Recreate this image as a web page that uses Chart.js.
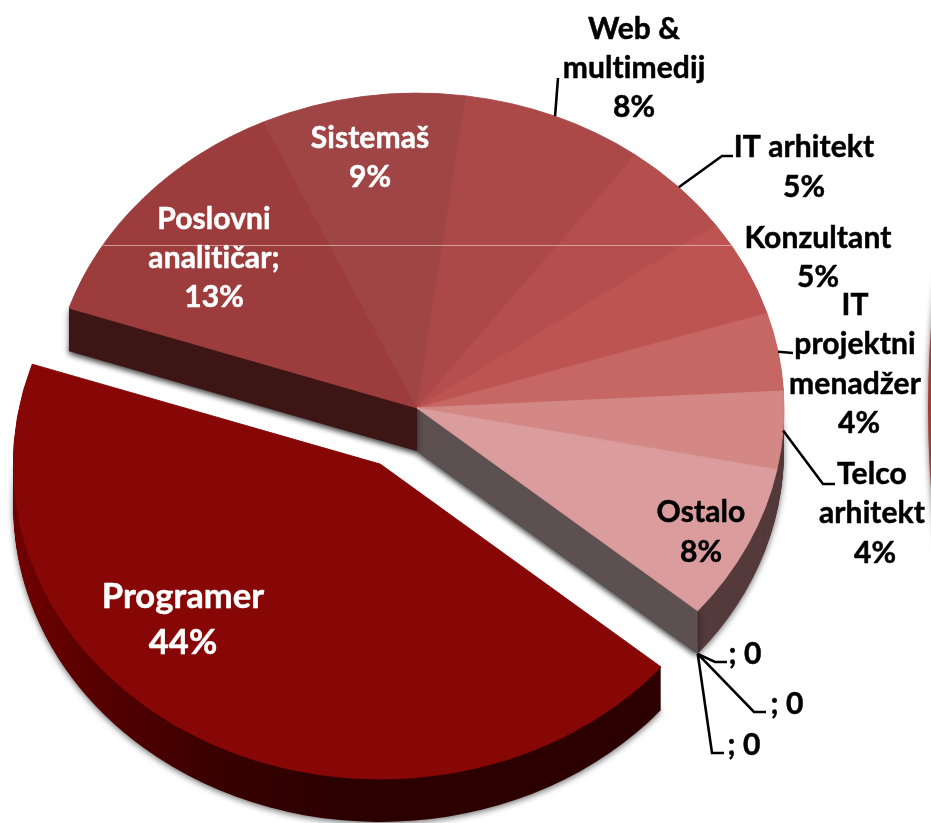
<!DOCTYPE html>
<html>
<head>
<meta charset="utf-8">
<style>
html, body { margin: 0; padding: 0; background: #fff; overflow: hidden; }
canvas { display: block; }
</style>
<script src="https://cdn.jsdelivr.net/npm/chart.js@4/dist/chart.umd.js"></script>
</head>
<body>
<canvas id="myChart" width="931" height="823"></canvas>
<script>
// data
const categories = ['Programer', 'Poslovni analitičar;', 'Sistemaš', 'Web & multimedij', 'IT arhitekt',
    'Konzultant', 'IT projektni menadžer', 'Telco arhitekt', 'Ostalo', '', '', '']
const shares = [44, 13, 9, 8, 5, 5, 4, 4, 8, 0, 0, 0]
const sliceColors = ['#870707', '#9c3c3c', '#a04545', '#ab4949', '#b44f4d', '#bd5451', '#c76764', '#d38886', '#da9c9d',
    '#da9c9d', '#da9c9d', '#da9c9d']

// how the labels break, the last line is the value
const labelLines = [['Programer'], ['Poslovni', 'analitičar;'], ['Sistemaš'], ['Web &', 'multimedij'], ['IT arhitekt'],
    ['Konzultant'], ['IT', 'projektni', 'menadžer'], ['Telco', 'arhitekt'], ['Ostalo'], [], [], []]

// label layout: centre x, first line y, line gap, value x shift, colour
const labelPos = [
    [183, 597, 46, 0, '#fff', 34.5],
    [214, 219, 39, 0, '#fff'],
    [370, 138, 39, 0, '#fff'],
    [634, 29, 39, 0, '#000'],
    [804, 147, 40, 0, '#000'],
    [818, 238, 39, 0, '#000'],
    [855, 305, 39.5, 4, '#000'],
    [872, 474, 39.5, 3, '#000'],
    [701, 512, 40, 0, '#000'],
    [745, 654, 0, 0, '#000'],
    [787, 704, 0, 0, '#000'],
    [744, 745, 0, 0, '#000']
]

// leader lines: slice index and the elbow points after the pie edge
const leaders = [
    [3, [[558, 78]]],
    [4, [[722, 156], [733, 156]]],
    [6, [[793, 353]]],
    [7, [[823, 484], [835, 484]]],
    [9, [[715, 662], [727, 662]]],
    [10, [[754, 712], [766, 712]]],
    [11, [[712, 753], [724, 753]]]
]

const squash = 0.858
const depth = 43
const explode = 75
const centerY = 408

function flatten(ctx) {
    ctx.translate(0, centerY)
    ctx.scale(1, squash)
    ctx.translate(0, -centerY)
}

function slicePath(ctx, x, y, r, a, b) {
    ctx.beginPath()
    ctx.moveTo(x, y)
    ctx.arc(x, y, r, a, b)
    ctx.closePath()
}

function edgePoint(x, y, r, a) {
    return [x + Math.cos(a) * r, centerY + (y - centerY + Math.sin(a) * r) * squash]
}

function setShadow(ctx) {
    ctx.shadowColor = 'rgba(0,0,0,0.55)'
    ctx.shadowBlur = 6
    ctx.shadowOffsetX = 0
    ctx.shadowOffsetY = 2
}

function drawRim(ctx, x, y, r, a, b, fill) {
    for (let d = depth; d > 0; d--) {
        ctx.save()
        if (d === depth) setShadow(ctx)
        ctx.translate(0, d)
        flatten(ctx)
        ctx.fillStyle = fill
        slicePath(ctx, x, y, r, a, b)
        ctx.fill()
        ctx.restore()
    }
}

function drawWall(ctx, x, y, r, a, fill) {
    const p = edgePoint(x, y, r, a)
    ctx.save()
    setShadow(ctx)
    ctx.fillStyle = fill
    ctx.beginPath()
    ctx.moveTo(x, y)
    ctx.lineTo(p[0], p[1])
    ctx.lineTo(p[0], p[1] + depth)
    ctx.lineTo(x, y + depth)
    ctx.closePath()
    ctx.fill()
    ctx.restore()
}

// the library only gives a flat pie, so tilt it and give it a thickness
const tiltPlugin = {
    id: 'tilt',
    beforeDatasetsDraw(chart) {
        const ctx = chart.ctx
        const arcs = chart.getDatasetMeta(0).data
        const first = arcs[0].getProps(['x', 'y', 'startAngle', 'endAngle', 'outerRadius'], true)
        const next = arcs[1].getProps(['startAngle'], true)
        const last = arcs[8].getProps(['endAngle'], true)
        const { x, y, outerRadius: r } = first

        // rest of the pie
        drawRim(ctx, x, y, r, next.startAngle, last.endAngle, '#553a3b')
        drawWall(ctx, x, y, r, last.endAngle, '#5c5150')
        drawWall(ctx, x, y, r, next.startAngle, '#3e1515')
        ctx.save()
        flatten(ctx)
        arcs.forEach((arc, i) => {
            if (i > 0 && shares[i] > 0) arc.draw(ctx)
        })
        ctx.restore()

        // line across the top of the picture
        const half = r * Math.sqrt(1 - Math.pow((centerY - 245) / (r * squash), 2))
        ctx.save()
        ctx.strokeStyle = 'rgba(255,225,225,0.55)'
        ctx.lineWidth = 1
        ctx.beginPath()
        ctx.moveTo(x - half, 245.5)
        ctx.lineTo(x + half, 245.5)
        ctx.stroke()
        ctx.restore()

        // pulled out slice
        const mid = (first.startAngle + first.endAngle) / 2
        const ox = Math.cos(mid) * explode
        const oy = Math.sin(mid) * explode
        const grad = ctx.createLinearGradient(15, 0, 340, 0)
        grad.addColorStop(0, '#700000')
        grad.addColorStop(0.3, '#520000')
        grad.addColorStop(0.65, '#380000')
        grad.addColorStop(1, '#2c0000')
        drawRim(ctx, x + ox, y + oy, r, first.startAngle, first.endAngle, grad)
        ctx.save()
        flatten(ctx)
        ctx.translate(ox, oy)
        arcs[0].draw(ctx)
        ctx.restore()
        return false
    },
    afterDraw(chart) {
        const ctx = chart.ctx
        const arcs = chart.getDatasetMeta(0).data

        // edge of the neighbouring pie, cut off by the picture
        ctx.save()
        setShadow(ctx)
        ctx.fillStyle = '#a33a3a'
        ctx.beginPath()
        ctx.ellipse(1000, 408, 72, 280, 0, 0, Math.PI * 2)
        ctx.fill()
        ctx.restore()

        ctx.strokeStyle = '#000'
        ctx.lineWidth = 2.6
        leaders.forEach(([i, pts]) => {
            const arc = arcs[i].getProps(['x', 'y', 'startAngle', 'endAngle', 'outerRadius'], true)
            const mid = (arc.startAngle + arc.endAngle) / 2
            const p = edgePoint(arc.x, arc.y, arc.outerRadius, mid)
            ctx.beginPath()
            ctx.moveTo(p[0], shares[i] > 0 ? p[1] : p[1] + depth)
            pts.forEach(q => ctx.lineTo(q[0], q[1]))
            ctx.stroke()
        })

        ctx.textAlign = 'center'
        ctx.textBaseline = 'middle'
        ctx.letterSpacing = '0.1px' // keeps the ti ligature out
        ctx.lineJoin = 'round'
        categories.forEach((name, i) => {
            const [cx, cy, gap, shift, color, size] = labelPos[i]
            const lines = labelLines[i]
            ctx.fillStyle = color
            ctx.strokeStyle = color
            ctx.lineWidth = 0.5
            ctx.font = 'bold ' + (size || 30) + 'px Lato, "Open Sans", sans-serif'
            const value = shares[i] > 0 ? shares[i] + '%' : '; 0'
            lines.forEach((t, n) => {
                ctx.fillText(t, cx, cy + n * gap)
                ctx.strokeText(t, cx, cy + n * gap)
            })
            ctx.fillText(value, cx + shift, cy + lines.length * gap)
            ctx.strokeText(value, cx + shift, cy + lines.length * gap)
        })
    }
}

const myChart = new Chart(document.getElementById('myChart').getContext('2d'), {
    type: 'pie',
    data: {
        labels: categories,
        datasets: [{
            data: shares,
            backgroundColor: sliceColors,
            borderColor: sliceColors,
            borderWidth: 1
        }]
    },
    options: {
        responsive: false,
        animation: false,
        rotation: 130.1,
        radius: 367,
        layout: { padding: { left: 0, right: 97, top: 0, bottom: 7 } },
        events: [],
        plugins: { legend: { display: false }, tooltip: { enabled: false } }
    },
    plugins: [tiltPlugin]
});
</script>
</body>
</html>
